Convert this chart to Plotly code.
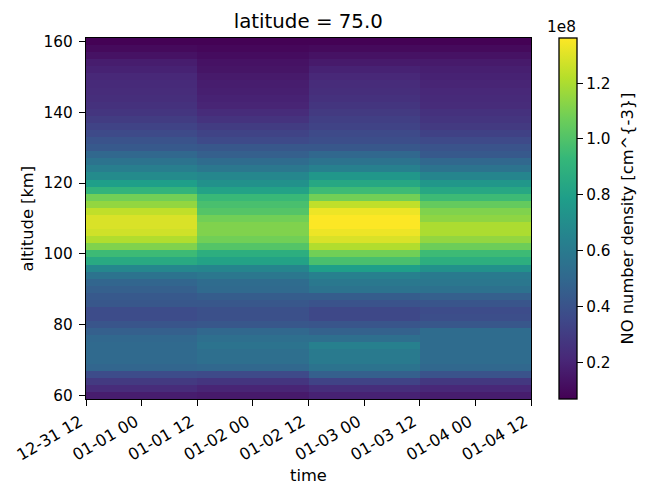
import plotly.graph_objects as go

times = ["2000-01-01 00:00", "2000-01-02 00:00", "2000-01-03 00:00", "2000-01-04 00:00"]
altitude = [60, 62, 64, 66, 68, 70, 72, 74, 76, 78, 80, 82, 84, 86, 88, 90, 92, 94, 96, 98,
            100, 102, 104, 106, 108, 110, 112, 114, 116, 118, 120, 122, 124, 126, 128, 130,
            132, 134, 136, 138, 140, 142, 144, 146, 148, 150, 152, 154, 156, 158, 160]

# NO number density in units of 1e8 cm^-3, altitude ascending
day1 = [.17, .23, .29, .37, .49, .51, .51, .51, .50, .46, .41, .37, .37, .42, .43, .46, .49, .56, .67, .85,
        .95, 1.11, 1.21, 1.27, 1.29, 1.29, 1.24, 1.15, 1.08, .91, .79, .69, .62, .56, .50, .43,
        .40, .36, .33, .30, .27, .25, .24, .23, .22, .21, .19, .17, .13, .10, .07]
day2 = [.16, .20, .27, .36, .50, .54, .54, .56, .54, .50, .42, .39, .39, .42, .45, .51, .52, .58, .66, .81,
        .88, 1.01, 1.08, 1.11, 1.11, 1.08, 1.01, .98, .94, .81, .72, .67, .58, .52, .46, .42,
        .36, .33, .30, .26, .23, .20, .19, .18, .17, .16, .14, .13, .11, .09, .07]
day3 = [.19, .24, .33, .46, .56, .60, .60, .63, .54, .47, .41, .35, .35, .40, .45, .56, .59, .63, .79, .98,
        1.08, 1.21, 1.29, 1.33, 1.36, 1.36, 1.33, 1.24, 1.08, .95, .84, .75, .63, .56, .50, .42,
        .38, .36, .33, .31, .29, .27, .25, .24, .23, .21, .19, .16, .13, .10, .07]
day4 = [.17, .21, .28, .40, .50, .52, .52, .52, .52, .52, .42, .38, .37, .41, .46, .55, .58, .60, .72, .88,
        .95, 1.07, 1.15, 1.20, 1.20, 1.14, 1.11, 1.05, .95, .84, .75, .66, .56, .50, .43, .40,
        .36, .32, .29, .27, .25, .23, .22, .21, .20, .19, .18, .16, .13, .10, .07]

z = [list(r) for r in zip(day1, day2, day3, day4)]

FONT = "DejaVu Sans"
OFF = 8  # page body margin
W, H = 649 - OFF, 495 - OFF
L, R, T, B = 85.5 - OFF, 531 - OFF, 38 - OFF, 399 - OFF
CB = 559.3 - OFF
TICK = 15.3
LABEL = 16.3

fig = go.Figure(go.Heatmap(
    x=times, y=altitude, z=z, colorscale="Viridis", zmin=0.068, zmax=1.362,
    colorbar=dict(
        x=(CB - L) / (R - L), xanchor="left", xpad=0, ypad=0,
        y=0, yanchor="bottom", len=1, lenmode="fraction",
        thickness=18, thicknessmode="pixels",
        outlinewidth=1.3, outlinecolor="black",
        tickvals=[0.2, 0.4, 0.6, 0.8, 1.0, 1.2], ticktext=["0.2", "0.4", "0.6", "0.8", "1.0", "1.2"],
        ticks="outside", ticklen=6, tickwidth=1.3, tickcolor="black",
        tickfont=dict(family=FONT, size=TICK, color="black"),
    ),
))

fig.update_layout(
    width=W, height=H, autosize=False,
    margin=dict(l=L, r=W - R, t=T, b=H - B, pad=0, autoexpand=False),
    paper_bgcolor="white", plot_bgcolor="white",
    font=dict(family=FONT, size=TICK, color="black"),
    title=dict(text="latitude = 75.0", x=(L + R) / 2 / W, xanchor="center",
               y=1 - 13 / H, yanchor="middle", font=dict(family=FONT, size=19.8, color="black")),
    annotations=[
        dict(text="1e8", xref="paper", yref="paper", x=(577.5 - OFF - L) / (R - L), y=1,
             xanchor="right", yanchor="bottom", yshift=0, showarrow=False,
             xshift=1, font=dict(family=FONT, size=TICK, color="black")),
        dict(text="altitude [km]", xref="paper", yref="paper", x=(26.5 - OFF - L) / (R - L), y=0.5,
             xanchor="center", yanchor="middle", textangle=-90, showarrow=False,
             font=dict(family=FONT, size=LABEL, color="black")),
        dict(text="time", xref="paper", yref="paper", x=0.5, y=-(475 - 399) / (399 - 38),
             xanchor="center", yanchor="middle", showarrow=False,
             font=dict(family=FONT, size=LABEL, color="black")),
        dict(text="NO number density [cm^{-3}]", xref="paper", yref="paper",
             x=(628 - OFF - L) / (R - L), y=0.5,
             xanchor="center", yanchor="middle", textangle=-90, showarrow=False,
             font=dict(family=FONT, size=LABEL, color="black")),
    ],
)
fig.update_xaxes(
    automargin=False,
    type="date", tickformat="%m-%d %H",
    tick0="1999-12-31 12:00", dtick=43200000, tickangle=-30,
    ticklabelshift=-6, ticklabelstandoff=0,
    range=["1999-12-31 12:00", "2000-01-04 12:00"],
    ticks="outside", ticklen=6, tickwidth=1.3, tickcolor="black",
    showline=True, mirror=True, linecolor="black", linewidth=1.3, showgrid=False, zeroline=False,
    tickfont=dict(family=FONT, size=16.2, color="black"),
)
fig.update_yaxes(
    automargin=False,
    range=[59, 161],
    tickvals=[60, 80, 100, 120, 140, 160],
    ticks="outside", ticklen=6, tickwidth=1.3, tickcolor="black", ticklabelstandoff=3,
    showline=True, mirror=True, linecolor="black", linewidth=1.3, showgrid=False, zeroline=False,
    tickfont=dict(family=FONT, size=TICK, color="black"),
)

fig.write_html("out.html")
